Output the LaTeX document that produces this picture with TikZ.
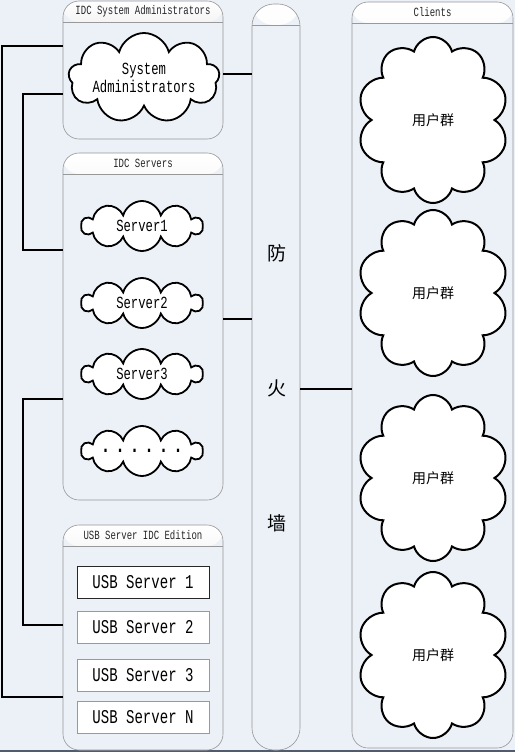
\documentclass[tikz,border=0pt]{standalone}
\usepackage{fontspec}
\usepackage{tikz}
\usetikzlibrary{shapes.symbols,positioning}
\newfontfamily\simfont[FakeStretch=0.72]{Liberation Mono}
\newfontfamily\cjk{Noto Sans CJK SC}
\definecolor{bgcol}{RGB}{236,241,248}
\definecolor{edgecol}{RGB}{150,150,150}
\definecolor{footcol}{RGB}{80,92,110}

\begin{document}
\begin{tikzpicture}[x=1pt, y=-1pt,
  panel/.style={draw=edgecol, fill=bgcol, rounded corners=16pt, line width=0.6pt,
    path picture={
      \shade[top color=white, bottom color=gray!55]
        (path picture bounding box.north west) rectangle ([yshift=-21pt]path picture bounding box.north east);
      \draw[gray!80, line width=0.8pt] ([yshift=-21pt]path picture bounding box.north west)
        -- ([yshift=-21pt]path picture bounding box.north east);
    }},
  title/.style={font=\simfont\fontsize{12.5}{14}\selectfont, text=gray!30!black},
  puff/.style={cloud, cloud ignores aspect, cloud puff arc=150, draw, fill=white, line width=1.8pt,
    inner sep=1pt, font=\simfont\fontsize{17}{18}\selectfont, align=center},
  srvcloud/.style={puff, cloud puffs=10, minimum width=121pt, minimum height=50pt},
  grpcloud/.style={puff, cloud puffs=10, line width=2pt, minimum width=151pt, minimum height=166pt,
    font=\cjk\fontsize{14}{16}\selectfont},
  usbbox/.style={draw=gray!80, fill=white, line width=0.8pt, minimum width=132pt, minimum height=32pt,
    font=\simfont\fontsize{19.5}{20}\selectfont},
  link/.style={draw, line width=1.4pt}
]
\useasboundingbox (0,0) rectangle (515,752);
\fill[bgcol] (0,0) rectangle (515,752);
\fill[footcol] (0,750) rectangle (515,752);

% panels
\node[panel, minimum width=160pt, minimum height=138pt] (admins) at (143,70) {};
\node[panel, minimum width=160pt, minimum height=347pt] (servers) at (143,326.5) {};
\node[panel, minimum width=160pt, minimum height=225pt] (usb) at (143,637.5) {};
\node[panel, rounded corners=22pt, minimum width=48pt, minimum height=746pt] (firewall) at (276,377) {};
\node[panel, minimum width=161pt, minimum height=746pt] (clients) at (432.5,375) {};

\node[title] (admins-title) at (143,11) {IDC System Administrators};
\node[title] (servers-title) at (143,163) {IDC Servers};
\node[title] (usb-title) at (143,535) {USB Server IDC Edition};
\node[title] (clients-title) at (432.5,12) {Clients};

% administrators
\node[puff, cloud puffs=9, minimum width=133pt, minimum height=90pt] (sysadmin) at (144,78)
  {System\\Administrators};

% servers
\node[srvcloud] (srv1) at (142,226) {Server1};
\node[srvcloud] (srv2) at (142,303) {Server2};
\node[srvcloud] (srv3) at (142,374) {Server3};
\node[srvcloud, font=\simfont\bfseries\fontsize{22}{18}\selectfont] (srvN) at (142,451)
  {.\hspace{5pt}.\hspace{5pt}.\hspace{5pt}.\hspace{5pt}.\hspace{5pt}.};

% usb servers
\node[usbbox, draw=black!85] (usb1) at (143,582) {USB Server 1};
\node[usbbox] (usb2) at (143,627) {USB Server 2};
\node[usbbox] (usb3) at (143,675) {USB Server 3};
\node[usbbox] (usbN) at (143,717) {USB Server N};

% firewall
\foreach \ch [count=\i] in {防,火,墙}
  \node[font=\cjk\fontsize{19}{20}\selectfont] (fw\i) at (277,118+135*\i) {\ch};

% client groups
\foreach \y [count=\i] in {120,293,478,655}
  \node[grpcloud] (group\i) at (433,\y) {用户群};

% connectors
\coordinate (busA) at (2,46);
\coordinate (busB) at (2,697);
\coordinate (busC) at (23,94);
\coordinate (busD) at (23,250);
\coordinate (busE) at (23,399);
\coordinate (busF) at (23,625);
\draw[link] (admins.west |- busA) -- (busA) -- (busB) -- (usb.west |- busB);
\draw[link] (admins.west |- busC) -- (busC) -- (busD) -- (servers.west |- busD);
\draw[link] (servers.west |- busE) -- (busE) -- (busF) -- (usb.west |- busF);

\coordinate (admOut) at (223,74);
\coordinate (srvOut) at (223,319);
\coordinate (fwOut) at (300,389);
\draw[link] (admins.east |- admOut) -- (firewall.west |- admOut);
\draw[link] (servers.east |- srvOut) -- (firewall.west |- srvOut);
\draw[link] (firewall.east |- fwOut) -- (clients.west |- fwOut);
\end{tikzpicture}
\end{document}
